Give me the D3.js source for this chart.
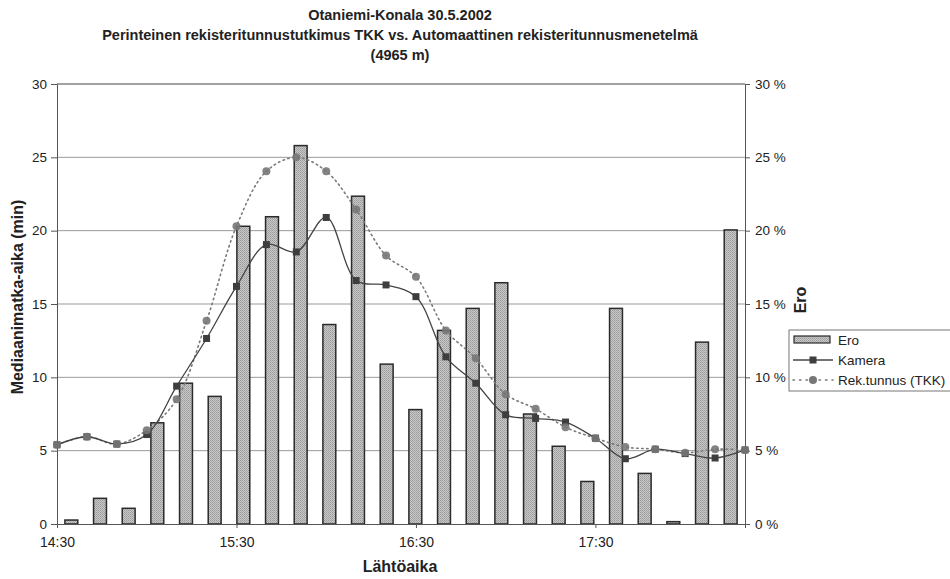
<!DOCTYPE html>
<html><head><meta charset="utf-8">
<script src="https://cdn.jsdelivr.net/npm/d3@7"></script>
<style>
body{margin:0;background:#fff;}
text{font-family:Arial,"Liberation Sans",sans-serif;fill:#222;}
</style></head>
<body><svg id="c" width="950" height="579"></svg>
<script>
const times = ["14:30","14:40","14:50","15:00","15:10","15:20","15:30","15:40","15:50","16:00","16:10","16:20","16:30","16:40","16:50","17:00","17:10","17:20","17:30","17:40","17:50","18:00","18:10","18:20"];
const ero = [0.27,1.75,1.07,6.9,9.6,8.7,20.3,20.95,25.8,13.6,22.35,10.9,7.8,13.2,14.7,16.45,7.5,5.3,2.9,14.7,3.45,0.16,12.4,20.05];
const kamera = [5.4,5.95,5.45,6.1,9.4,12.65,16.2,19.05,18.55,20.9,16.6,16.3,15.5,11.4,9.6,7.45,7.2,6.95,5.85,4.45,5.1,4.8,4.5,5.05];
const tkk = [5.4,5.95,5.45,6.4,8.5,13.85,20.3,24.05,25.0,24.05,21.45,18.3,16.85,13.2,11.3,8.85,7.85,6.6,5.85,5.25,5.1,4.85,5.1,5.05];
const xTickLabels = ["14:30","15:30","16:30","17:30"];
const yTicks = [0,5,10,15,20,25,30];
const yTicksRight = [0,5,10,15,20,25,30];
const legendNames = ["Ero","Kamera","Rek.tunnus (TKK)"];

const svg = d3.select("#c");
const L=57, R=745, T=84, B=524;
const xP = d3.scalePoint().domain(times).range([L,R]).padding(0);
const xB = d3.scaleBand().domain(times).range([L,R]).paddingInner(0.55).paddingOuter(0.275);
const y = d3.scaleLinear().domain([0,30]).range([B,T]);
const y2 = d3.scaleLinear().domain([0,30]).range([B,T]);

const defs = svg.append("defs");
const pat = defs.append("pattern").attr("id","hatch").attr("width",2).attr("height",2).attr("patternUnits","userSpaceOnUse");
pat.append("rect").attr("width",2).attr("height",2).attr("fill","#c8c8c8");
pat.append("rect").attr("width",1).attr("height",1).attr("fill","#9a9a9a");
pat.append("rect").attr("x",1).attr("y",1).attr("width",1).attr("height",1).attr("fill","#a8a8a8");

svg.append("g").selectAll("line").data(yTicks.filter(d=>d>0)).join("line")
  .attr("x1",L).attr("x2",R).attr("y1",d=>y(d)).attr("y2",d=>y(d))
  .attr("stroke","#9a9a9a").attr("stroke-width",1);

svg.append("g").selectAll("rect").data(ero).join("rect")
  .attr("x",(d,i)=>xB(times[i])).attr("width",xB.bandwidth())
  .attr("y",d=>y2(d)).attr("height",d=>B-y2(d))
  .attr("fill","url(#hatch)").attr("stroke","#2a2a2a").attr("stroke-width",1.5);

const yAxisL = d3.axisLeft(y).tickValues(yTicks).tickSize(6).tickFormat(d3.format("d"));
const gL = svg.append("g").attr("transform",`translate(${L},0)`).call(yAxisL);
gL.select(".domain").attr("stroke","#555");
gL.selectAll(".tick line").attr("stroke","#555");
gL.selectAll(".tick text").attr("font-size","13.5px").attr("x",-10).attr("fill","#222");

const yAxisR = d3.axisRight(y2).tickValues(yTicksRight).tickSize(5).tickFormat(d=>d+" %");
const gR = svg.append("g").attr("transform",`translate(${R},0)`).call(yAxisR);
gR.select(".domain").attr("stroke","#555");
gR.selectAll(".tick line").attr("stroke","#555");
gR.selectAll(".tick text").attr("font-size","13.5px").attr("x",10).attr("fill","#222");

const xAxis = d3.axisBottom(xP).tickValues(xTickLabels).tickSize(4);
const gX = svg.append("g").attr("transform",`translate(0,${B})`).call(xAxis);
gX.select(".domain").attr("stroke","#555");
gX.selectAll(".tick line").attr("stroke","#555");
gX.selectAll(".tick text").attr("font-size","14px").attr("y",13).attr("fill","#222");

svg.append("line").attr("x1",L).attr("x2",R).attr("y1",T).attr("y2",T).attr("stroke","#777");

const lineGen = arr => d3.line().x((d,i)=>xP(times[i])).y(d=>y(d)).curve(d3.curveCatmullRom.alpha(0.5))(arr);
svg.append("path").attr("d",lineGen(tkk)).attr("fill","none").attr("stroke","#7a7a7a").attr("stroke-width",1.6).attr("stroke-dasharray","1.5,3.5").attr("stroke-linecap","round");
svg.append("path").attr("d",lineGen(kamera)).attr("fill","none").attr("stroke","#444").attr("stroke-width",1.3);

svg.append("g").selectAll("rect").data(kamera).join("rect")
  .attr("x",(d,i)=>xP(times[i])-3.5).attr("y",d=>y(d)-3.5).attr("width",7).attr("height",7)
  .attr("fill","#3e3e3e");
svg.append("g").selectAll("circle").data(tkk).join("circle")
  .attr("cx",(d,i)=>xP(times[i])).attr("cy",d=>y(d)).attr("r",4)
  .attr("fill","#777").attr("opacity",0.9);

const title = svg.append("g").attr("font-weight","bold").attr("font-size","14.5px").attr("text-anchor","middle");
title.append("text").attr("x",400).attr("y",20).text("Otaniemi-Konala 30.5.2002").attr("font-weight","bold");
title.append("text").attr("x",400).attr("y",40).text("Perinteinen rekisteritunnustutkimus TKK vs. Automaattinen rekisteritunnusmenetelmä").attr("font-weight","bold");
title.append("text").attr("x",400).attr("y",60).text("(4965 m)").attr("font-weight","bold");

svg.append("text").attr("x",400).attr("y",572).attr("text-anchor","middle").attr("font-size","16px").attr("font-weight","bold").text("Lähtöaika");
svg.append("text").attr("transform","translate(23,297) rotate(-90)").attr("text-anchor","middle").attr("font-size","16px").attr("font-weight","bold").text("Mediaanimatka-aika (min)");
svg.append("text").attr("transform","translate(806,300) rotate(-90)").attr("text-anchor","middle").attr("font-size","16px").attr("font-weight","bold").text("Ero");

const lg = svg.append("g");
lg.append("rect").attr("x",789).attr("y",330).attr("width",170).attr("height",61).attr("fill","#fff").attr("stroke","#777");
lg.append("rect").attr("x",794).attr("y",336).attr("width",36).attr("height",7).attr("fill","url(#hatch)").attr("stroke","#2a2a2a").attr("stroke-width",1.2);
lg.append("line").attr("x1",793).attr("x2",833).attr("y1",360).attr("y2",360).attr("stroke","#444").attr("stroke-width",1.3);
lg.append("rect").attr("x",809.5).attr("y",356.5).attr("width",7).attr("height",7).attr("fill","#3e3e3e");
lg.append("line").attr("x1",793).attr("x2",833).attr("y1",380).attr("y2",380).attr("stroke","#7a7a7a").attr("stroke-width",1.6).attr("stroke-dasharray","1.5,5").attr("stroke-linecap","round");
lg.append("circle").attr("cx",813).attr("cy",380).attr("r",4).attr("fill","#777");
lg.selectAll("text.l").data(legendNames).join("text").attr("class","l")
  .attr("x",838).attr("y",(d,i)=>345+i*20).attr("font-size","13.5px").text(d=>d);
</script></body></html>
